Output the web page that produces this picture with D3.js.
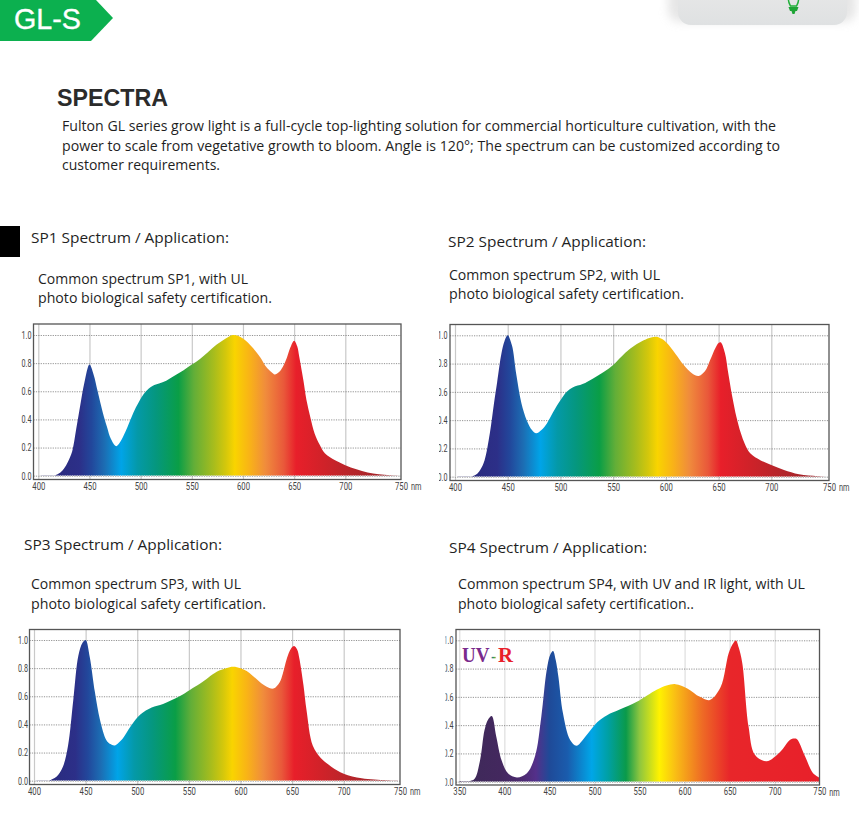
<!DOCTYPE html>
<html><head><meta charset="utf-8">
<script src="https://cdn.jsdelivr.net/npm/d3@7"></script>
<style>html,body{margin:0;padding:0;background:#fff;overflow:hidden}svg{display:block}</style>
</head><body><svg id="c" width="859" height="818"></svg>
<script>
// ---- data ----
const yTicks = [0, 0.2, 0.4, 0.6, 0.8, 1.0];
const xTicksVisible = [400, 450, 500, 550, 600, 650, 700, 750];
const xTicksUV = [350, 400, 450, 500, 550, 600, 650, 700, 750];

const sp1Nm = [400,415,420,425,429,433,437,441,445,450,454,458,463,467,471,476,480,485,489,493,498,503,508,512,518,525,533,542,550,558,566,574,582,590,595,600,605,610,617,623,628,631,635,639,643,646,650,653,655,659,662,666,670,675,680,690,700,710,720,730,740,750];
const sp1Val = [0,0,0.015,0.05,0.10,0.17,0.33,0.50,0.66,0.79,0.72,0.60,0.45,0.35,0.26,0.21,0.24,0.31,0.38,0.45,0.52,0.58,0.62,0.64,0.655,0.675,0.71,0.75,0.79,0.83,0.88,0.93,0.97,1.0,0.995,0.975,0.945,0.905,0.84,0.77,0.735,0.72,0.735,0.775,0.84,0.905,0.96,0.92,0.845,0.68,0.54,0.41,0.30,0.22,0.16,0.11,0.075,0.045,0.022,0.01,0.004,0];

const sp2Nm = [400,415,420,424,428,433,437,440,444,447,450,454,458,463,468,473,477,482,487,493,500,506,512,521,531,541,550,558,566,579,586,591,596,601,609,617,625,631,637,642,647,650,652,656,659,663,667,671,675,680,690,700,711,724,740,750];
const sp2Val = [0,0,0.015,0.05,0.115,0.305,0.52,0.67,0.87,0.96,1.0,0.93,0.73,0.52,0.40,0.33,0.307,0.33,0.375,0.455,0.54,0.60,0.632,0.655,0.695,0.74,0.79,0.85,0.905,0.965,0.985,0.99,0.975,0.945,0.87,0.79,0.73,0.712,0.745,0.825,0.91,0.945,0.95,0.875,0.74,0.565,0.42,0.31,0.23,0.165,0.115,0.083,0.047,0.017,0.004,0];

const sp3Nm = [400,414,418,422,428,433,438,443,447,450,454,459,464,470,474,478,482,486,494,503,514,525,541,551,561,577,586,593,600,606,612,619,625,632,638,641,645,649,652,655,657,661,664,670,678,688,700,716,738,750];
const sp3Val = [0,0,0.012,0.03,0.10,0.25,0.57,0.89,0.98,1.0,0.88,0.63,0.43,0.29,0.26,0.25,0.27,0.30,0.39,0.47,0.52,0.545,0.60,0.645,0.69,0.775,0.80,0.81,0.80,0.78,0.745,0.70,0.67,0.655,0.70,0.76,0.87,0.94,0.957,0.93,0.87,0.68,0.50,0.25,0.16,0.10,0.05,0.017,0.003,0];

const sp4Nm = [350,362,367,373,378,382,386,391,397,404,414,425,434,441,447,451,454,457,460,465,473,480,490,503,514,528,547,569,580,590,603,617,628,640,649,654,657,660,664,671,678,691,706,717,722,725,734,743,750];
const sp4Val = [0.005,0.005,0.02,0.15,0.365,0.44,0.465,0.32,0.15,0.06,0.03,0.06,0.18,0.46,0.79,0.90,0.925,0.86,0.74,0.485,0.295,0.255,0.32,0.42,0.47,0.51,0.565,0.65,0.68,0.69,0.66,0.60,0.578,0.67,0.91,0.98,0.998,0.95,0.84,0.39,0.19,0.145,0.21,0.295,0.305,0.30,0.18,0.06,0.03];

// ---- gradient stops ----
const visibleStopNm = [410,440,452,465,481,497,515,537,552,572,583,592,606,622,640,652,680,705,750];
const visibleStopCol = ["#2a2a7c","#2c2f88","#22479b","#1c6eb4","#00a4e8","#0499a8","#05977e","#0a9e46","#62ae38","#a9bd1c","#d3c70c","#f9d400","#f9b416","#f08c3c","#e9583a","#e81f2a","#cf2229","#b7252a","#98242a"];
const uvStopNm = [350,395,420,435,450,470,497,515,535,550,572,590,620,650,750];
const uvStopCol = ["#3d2a58","#43285e","#4c2a70","#54308a","#1f4a98","#1a5cad","#00a6e8","#00a0a4","#0a9a4a","#8dc63f","#fff200","#f9bd15","#ee6a25","#e8262a","#e8202a"];

// ---- panel placement ----
const panels = [
 {id:"sp1",nm:sp1Nm,val:sp1Val,ticks:xTicksVisible,f:[33.5,324,401,479.5],xa:[38.3,345.3,401],ya:[475.7,335],sn:visibleStopNm,sc:visibleStopCol,labR:31.5,labClip:0,grid:"#c9c9c9"},
 {id:"sp2",nm:sp2Nm,val:sp2Val,ticks:xTicksVisible,f:[450,324.5,829,480.5],xa:[455,771.3,829],ya:[476.7,335.3],sn:visibleStopNm,sc:visibleStopCol,labR:447.5,labClip:439,grid:"#c9c9c9"},
 {id:"sp3",nm:sp3Nm,val:sp3Val,ticks:xTicksVisible,f:[29.5,629.5,400,784.5],xa:[34,343.7,400],ya:[780.7,640],sn:visibleStopNm,sc:visibleStopCol,labR:28,labClip:0,grid:"#c9c9c9"},
 {id:"sp4",nm:sp4Nm,val:sp4Val,ticks:xTicksUV,f:[456,629.5,819.5,785],xa:[459.3,774.7,819.3],ya:[781.7,640.3],sn:uvStopNm,sc:uvStopCol,labR:453.5,labClip:445.5,grid:"#dedede"}
];

const svg = d3.select("#c");
const defs = svg.append("defs");
const BODY = "'Open Sans','Noto Sans',sans-serif";
const TICK = "'Roboto','Liberation Sans',sans-serif";

function label(txt,x,base,right,size,fill,fam,weight){
  const t = svg.append("text").attr("x",x).attr("y",base).text(txt)
    .attr("font-family",fam||BODY).attr("font-size",size).attr("fill",fill||"#1f1f1f");
  if(weight) t.attr("font-weight",weight);
  if(right) t.attr("textLength",right-x).attr("lengthAdjust","spacingAndGlyphs");
  return t;
}

// ---- header ----
svg.append("polygon").attr("points","0,0 96,0 113,18 91,41 0,41").attr("fill","#0cb04f");
label("GL-S",14,29,81,29.5,"#fff","'Liberation Sans',Arial,sans-serif").attr("stroke","#fff").attr("stroke-width",.35);
label("SPECTRA",57,106,168,24,"#2b2b2b","'Liberation Sans',Arial,sans-serif","bold");

// ---- device picture, top right ----
const blur = defs.append("filter").attr("id","soft").attr("x","-20%").attr("y","-60%").attr("width","140%").attr("height","220%");
blur.append("feGaussianBlur").attr("stdDeviation",5);
const dev = defs.append("linearGradient").attr("id","dev").attr("x1",0).attr("x2",0).attr("y1",0).attr("y2",1);
dev.append("stop").attr("offset",0).attr("stop-color","#e9e9e9");
dev.append("stop").attr("offset",1).attr("stop-color","#dfe1e2");
svg.append("rect").attr("x",668).attr("y",-20).attr("width",188).attr("height",42).attr("rx",12).attr("fill","#d2d2d2").attr("opacity",.55).attr("filter","url(#soft)");
svg.append("rect").attr("x",678).attr("y",-20).attr("width",169).attr("height",45).attr("rx",13).attr("fill","url(#dev)");
svg.append("path").attr("d","M788.5,-2 C788,2 789.5,4 790.5,6 L796.5,6 C797.5,4 799,2 798.5,-2").attr("fill","none").attr("stroke","#22b03a").attr("stroke-width",1.5);
svg.append("path").attr("d","M788.5,7 L798.5,7 L797,11 L795.5,11 L794.5,14 L792.5,14 L791.5,11 L790,11 Z").attr("fill","#1ea436");

// ---- paragraph ----
label("Fulton GL series grow light is a full-cycle top-lighting solution for commercial horticulture cultivation, with the",62,131,776,14.5);
label("power to scale from vegetative growth to bloom. Angle is 120°; The spectrum can be customized according to",62,151,780,14.5);
label("customer requirements.",62,170,220,14.5);

svg.append("rect").attr("x",0).attr("y",226).attr("width",20).attr("height",31).attr("fill","#000");

// ---- headings ----
label("SP1 Spectrum / Application:",31,243,229,15);
label("Common spectrum SP1, with UL",38,284,248,14);
label("photo biological safety certification.",38,303,272,14);
label("SP2 Spectrum / Application:",448,247,646,15);
label("Common spectrum SP2, with UL",449,280,660,14);
label("photo biological safety certification.",449,299,684,14);
label("SP3 Spectrum / Application:",24,550,222,15);
label("Common spectrum SP3, with UL",31,589,241,14);
label("photo biological safety certification.",31,609,266,14);
label("SP4 Spectrum / Application:",449,553,647,15);
label("Common spectrum SP4, with UV and IR light, with UL",458,589,805,14);
label("photo biological safety certification..",458,609,694,14);

// ---- charts ----
panels.forEach(p=>{
  const [l,t,r,b] = p.f;
  const first = p.ticks[0], last = p.ticks[p.ticks.length-1];
  const x = d3.scaleLinear().domain([first,700,last]).range(p.xa);
  const y = d3.scaleLinear().domain([0,1]).range(p.ya);
  const g = svg.append("g");

  // vertical grid
  const gridX = d3.axisBottom(x).tickValues(p.ticks.filter(v=>v<last)).tickSize(-(b-t)).tickFormat("");
  const gx = g.append("g").attr("transform",`translate(0,${b})`).call(gridX);
  gx.select(".domain").remove();
  gx.selectAll("line").attr("stroke",p.grid).attr("stroke-width",1.2);

  // horizontal dotted grid
  const gridY = d3.axisLeft(y).tickValues(yTicks).tickSize(-(r-l)).tickFormat("");
  const gy = g.append("g").attr("transform",`translate(${l},0)`).call(gridY);
  gy.select(".domain").remove();
  gy.selectAll("line").attr("stroke","#777").attr("stroke-width",.8).attr("stroke-dasharray","1.2 1.2");

  // gradient fill
  const grad = defs.append("linearGradient").attr("id","grad-"+p.id)
    .attr("gradientUnits","userSpaceOnUse").attr("x1",x(first)).attr("x2",x(last)).attr("y1",0).attr("y2",0);
  p.sn.forEach((n,i)=>grad.append("stop")
    .attr("offset",(x(n)-x(first))/(x(last)-x(first))).attr("stop-color",p.sc[i]));

  const pts = p.nm.map((n,i)=>[n,p.val[i]]);
  const area = d3.area().x(d=>x(d[0])).y0(y(0)).y1(d=>Math.min(y(0),y(d[1]))).curve(d3.curveCatmullRom.alpha(0.5));
  g.append("path").datum(pts).attr("d",area).attr("fill",`url(#grad-${p.id})`);

  // baseline dots over the fill
  g.append("line").attr("x1",l).attr("x2",r).attr("y1",y(0)).attr("y2",y(0))
    .attr("stroke","#d8d8d8").attr("stroke-width",.8).attr("stroke-dasharray","1.2 1.2");

  // frame
  g.append("rect").attr("x",l).attr("y",t).attr("width",r-l).attr("height",b-t)
    .attr("fill","none").attr("stroke","#555").attr("stroke-width",1.3);

  // x labels
  const xa = g.append("g").attr("transform",`translate(0,${b})`)
    .call(d3.axisBottom(x).tickValues(p.ticks).tickSize(0).tickPadding(3).tickFormat(d3.format("d")));
  xa.select(".domain").remove();
  xa.selectAll("text").attr("font-family",TICK).attr("font-size",10.5).attr("fill","#444")
    .attr("textLength",13).attr("lengthAdjust","spacingAndGlyphs");
  g.append("text").attr("x",x(last)+10).attr("y",b+10.5).text("nm")
    .attr("font-family",TICK).attr("font-size",10).attr("fill","#444")
    .attr("textLength",10.5).attr("lengthAdjust","spacingAndGlyphs");

  // y labels
  const ya = g.append("g").attr("transform",`translate(${p.labR},0)`)
    .call(d3.axisLeft(y).tickValues(yTicks).tickSize(0).tickPadding(0).tickFormat(d3.format(".1f")));
  ya.select(".domain").remove();
  ya.selectAll("text").attr("font-family",TICK).attr("font-size",10.5).attr("fill","#444")
    .attr("textLength",10).attr("lengthAdjust","spacingAndGlyphs");
  if(p.labClip){
    defs.append("clipPath").attr("id","clip-"+p.id).append("rect")
      .attr("x",p.labClip).attr("y",t-5).attr("width",l-p.labClip).attr("height",b-t+15);
    const wrap = g.append("g").attr("clip-path",`url(#clip-${p.id})`);
    wrap.node().appendChild(ya.node());
  }
});

// ---- UV-R badge ----
const SERIF = "'Liberation Serif',serif";
const dashGrad = defs.append("linearGradient").attr("id","dash");
[["0","#2f5fae"],["0.5","#2fa04a"],["1","#f2c40f"]].forEach(s=>dashGrad.append("stop").attr("offset",s[0]).attr("stop-color",s[1]));
label("UV",462,662,489.5,22,"#7a2a8c",SERIF,"bold");
label("-",491,662,496.5,16,"url(#dash)",SERIF,"bold");
label("R",498,662,513,22,"#e8202a",SERIF,"bold");
</script></body></html>
